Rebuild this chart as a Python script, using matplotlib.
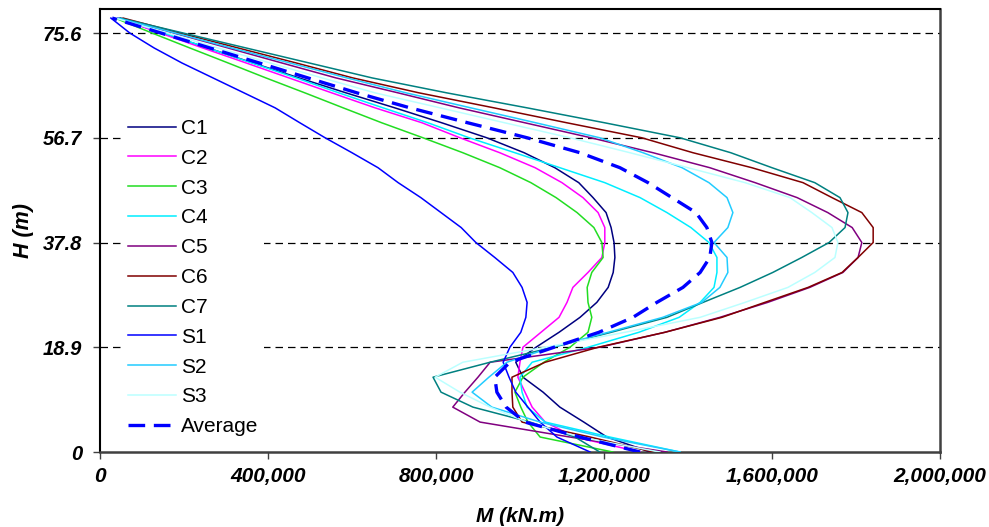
import matplotlib

matplotlib.use("Agg")

import matplotlib.pyplot as plt
from matplotlib.ticker import FuncFormatter

plt.rcParams["font.family"] = ["Liberation Sans", "DejaVu Sans"]

# storey levels (m), bottom to top
H = [0.0, 2.7, 5.4, 8.1, 10.8, 13.5, 16.2, 18.9, 21.6, 24.3, 27.0, 29.7, 32.4, 35.1,
     37.8, 40.5, 43.2, 45.9, 48.6, 51.3, 54.0, 56.7, 59.4, 62.1, 64.8, 67.5, 70.2,
     72.9, 75.6, 78.3]

# overturning moment per record, in thousands of kN.m
C1 = [1310, 1207, 1152, 1095, 1055, 1007, 990, 1038, 1093, 1143, 1183, 1210, 1222, 1226, 1224,
      1217, 1205, 1174, 1140, 1083, 1010, 921, 814, 702, 586, 474, 364, 257, 148, 43]
C2 = [1286, 1131, 1060, 1029, 1012, 995, 1000, 1007, 1050, 1093, 1112, 1126, 1162, 1195, 1202,
      1202, 1186, 1150, 1100, 1036, 952, 857, 767, 655, 552, 450, 348, 245, 143, 43]
C3 = [1221, 1048, 1019, 1002, 988, 1007, 1057, 1119, 1162, 1171, 1162, 1160, 1171, 1198, 1195,
      1176, 1136, 1086, 1026, 952, 864, 769, 671, 579, 488, 395, 305, 214, 124, 36]
C4 = [1381, 1214, 1060, 1017, 1005, 1000, 1029, 1162, 1283, 1379, 1429, 1462, 1469, 1469, 1450,
      1407, 1350, 1286, 1202, 1095, 988, 879, 781, 674, 569, 467, 362, 257, 152, 48]
C5 = [1350, 1119, 905, 840, 869, 900, 929, 1190, 1345, 1476, 1590, 1690, 1769, 1805, 1814,
      1791, 1733, 1660, 1560, 1452, 1317, 1169, 1012, 855, 710, 562, 433, 305, 176, 48]
C6 = [1317, 1167, 1005, 983, 981, 981, 1060, 1186, 1345, 1481, 1583, 1686, 1767, 1805, 1841,
      1841, 1814, 1743, 1674, 1552, 1412, 1290, 1112, 938, 760, 602, 467, 329, 190, 55]
C7 = [1190, 1131, 1024, 888, 812, 793, 929, 1079, 1217, 1350, 1436, 1524, 1602, 1671, 1736,
      1774, 1781, 1762, 1702, 1600, 1502, 1381, 1202, 1017, 826, 648, 498, 348, 198, 48]
S1 = [1167, 1088, 1048, 1019, 990, 974, 960, 976, 1002, 1014, 1017, 1005, 983, 940, 895,
      860, 812, 764, 710, 662, 600, 536, 476, 417, 343, 269, 195, 129, 71, 26]
S2 = [1381, 1198, 1048, 933, 886, 926, 969, 1076, 1210, 1340, 1433, 1476, 1495, 1493, 1462,
      1495, 1507, 1493, 1450, 1386, 1293, 1190, 1038, 883, 729, 588, 452, 314, 179, 43]
S3 = [1333, 1143, 1017, 929, 857, 798, 864, 1060, 1250, 1429, 1536, 1638, 1702, 1750, 1757,
      1743, 1695, 1643, 1536, 1400, 1262, 1119, 964, 810, 655, 529, 405, 281, 160, 36]
AVG = [1286, 1143, 1012, 967, 945, 940, 976, 1081, 1188, 1269, 1326, 1388, 1429, 1452, 1457,
       1445, 1419, 1362, 1305, 1238, 1143, 1017, 876, 738, 612, 495, 379, 262, 145, 29]

names = ["C1", "C2", "C3", "C4", "C5", "C6", "C7", "S1", "S2", "S3"]
series = [C1, C2, C3, C4, C5, C6, C7, S1, S2, S3]
colors = ["#000080", "#FF00FF", "#22DD22", "#00EEFF", "#800080", "#800000", "#008080",
          "#0000FF", "#22CCFF", "#BBFFFF"]

x_ticks = [0, 400000, 800000, 1200000, 1600000, 2000000]
y_ticks = [0, 18.9, 37.8, 56.7, 75.6]

fig = plt.figure(figsize=(9.89, 5.27), dpi=100)
ax = fig.add_axes([0.1011, 0.1423, 0.8493, 0.8413])

for yv in y_ticks[1:]:
    ax.axhline(yv, color="black", linewidth=0.9, linestyle=(0, (6, 4)), zorder=1)

for name, vals, c in zip(names, series, colors):
    ax.plot([v * 1000 for v in vals], H, color=c, linewidth=1.1, label=name, zorder=3)
ax.plot([v * 1000 for v in AVG], H, color="#0000FF", linewidth=2.4,
        linestyle=(0, (5, 2.6)), label="Average", zorder=4)

ax.set_xlim(0, 2000000)
ax.set_ylim(0, 80)
ax.set_xticks(x_ticks)
ax.set_yticks(y_ticks)
ax.xaxis.set_major_formatter(FuncFormatter(lambda v, p: f"{int(v):,}"))
ax.yaxis.set_major_formatter(FuncFormatter(lambda v, p: "0" if v == 0 else f"{v:.1f}"))
ax.tick_params(axis="both", direction="out", length=5, width=1, color="#404040")
ax.tick_params(axis="y", pad=8, labelsize=14.5)
ax.tick_params(axis="x", pad=6, labelsize=15)
for lab in ax.get_xticklabels() + ax.get_yticklabels():
    lab.set_fontweight("bold")
    lab.set_fontstyle("italic")

for side in ("top", "left"):
    ax.spines[side].set_color("black")
    ax.spines[side].set_linewidth(1.5)
for side in ("right", "bottom"):
    ax.spines[side].set_color("#404040")
    ax.spines[side].set_linewidth(1.8)

ax.set_xlabel("M (kN.m)", fontsize=15, fontweight="bold", fontstyle="italic", labelpad=15)
ax.set_ylabel("H (m)", fontsize=15.5, fontweight="bold", fontstyle="italic", labelpad=6)

leg = ax.legend(loc="upper left", bbox_to_anchor=(0.0132, 0.789), fontsize=15,
                frameon=True, fancybox=False, handlelength=2.3, handletextpad=0.25,
                labelspacing=0.52, borderpad=0.3)
leg.get_frame().set_facecolor("white")
leg.get_frame().set_edgecolor("none")
leg.get_frame().set_alpha(1)
leg.set_zorder(5)

fig.savefig("out.png", dpi=100)
